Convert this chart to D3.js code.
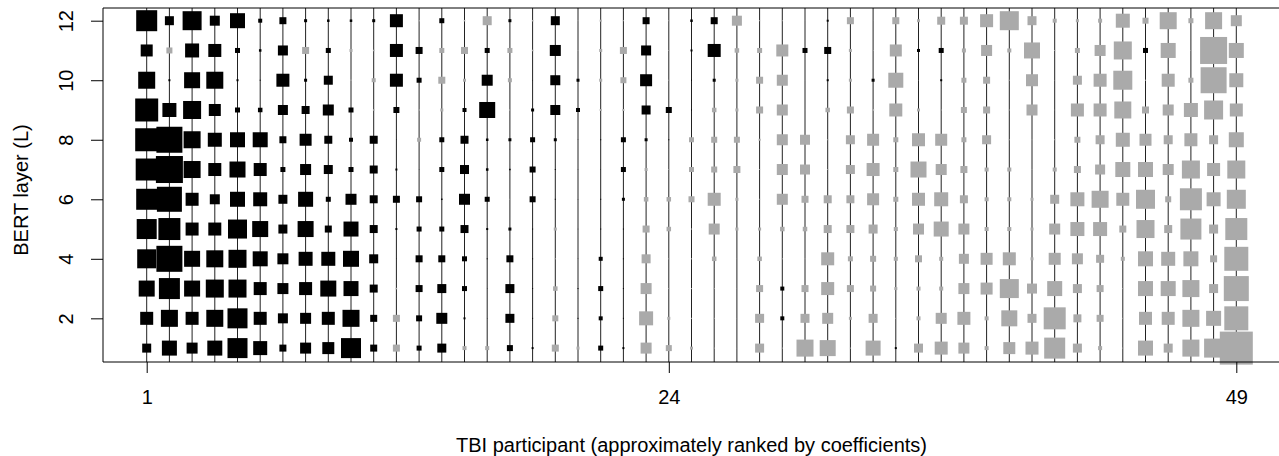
<!DOCTYPE html>
<html>
<head>
<meta charset="utf-8">
<script src="https://cdn.jsdelivr.net/npm/d3@7"></script>
<style>
  body { margin: 0; background: #fff; }
  svg { display: block; font-family: "Liberation Sans", Arial, Helvetica, sans-serif; }
</style>
</head>
<body>
<svg id="chart" width="1279" height="456"></svg>
<script>
// layers 1..12 (bottom to top), one row per participant, in rank order
const layers = [1, 2, 3, 4, 5, 6, 7, 8, 9, 10, 11, 12];
const xTicks = [1, 24, 49];
const yTicks = [2, 4, 6, 8, 10, 12];
const xTitle = 'TBI participant (approximately ranked by coefficients)';
const yTitle = 'BERT layer (L)';

// positive = black, negative = grey; square side ~ |coefficient|
const coef = [
  [0.9, 1.3, 1.6, 1.9, 2.0, 2.1, 2.2, 2.3, 2.3, 1.7, 1.2, 2.1],
  [1.5, 1.7, 2.1, 2.6, 2.2, 2.5, 2.7, 2.6, 1.4, 0.2, -0.6, 0.9],
  [1.1, 1.3, 1.6, 1.6, 1.3, 1.3, 1.7, 1.7, 1.8, 1.6, 1.4, 1.9],
  [1.5, 1.7, 1.8, 1.7, 1.3, 1.0, 1.3, 1.4, 1.2, 1.7, 1.3, 1.0],
  [2.0, 2.0, 1.8, 1.8, 1.9, 1.5, 1.6, 1.5, 0.5, 0.2, 0.5, 1.5],
  [1.4, 1.3, 1.3, 1.5, 1.6, 1.4, 1.3, 1.5, 0.45, 0.1, 0.25, 0.4],
  [0.7, 1.0, 1.1, 1.1, 0.9, 0.9, 0.5, 0.7, 1.0, 1.3, 1.0, 0.7],
  [1.1, 1.1, 1.3, 1.4, 1.6, 1.5, 1.1, 1.2, 0.8, 0.3, -0.7, 0.3],
  [1.2, 1.3, 1.6, 1.4, 0.7, 0.5, 0.9, 0.8, 1.1, 0.9, 0.5, 0.25],
  [2.0, 1.7, 1.5, 1.6, 1.5, 1.1, 0.5, 0.4, 0.5, -0.15, -0.3, 0.25],
  [0.7, 0.7, 0.8, 0.9, 0.8, 0.8, 0.8, 0.8, -0.15, -0.4, -0.15, 0.3],
  [-0.7, -0.7, -0.15, 0.05, 0.2, 0.7, 0.2, 0.05, 0.6, 1.3, 1.3, 1.3],
  [0.5, 0.6, 0.7, 0.7, 0.5, 0.6, 0.05, -0.4, -0.15, 0.5, 0.7, -0.15],
  [0.9, 1.1, 0.9, 0.7, 0.5, 0.15, 0.5, 0.5, -0.3, -0.7, -0.5, 0.5],
  [-0.4, 0.2, 0.5, 0.5, 0.8, 1.1, 0.9, 0.8, 0.4, -0.3, -0.7, -0.15],
  [-0.4, 0.05, 0.05, 0.1, 0.2, 0.5, 0.25, 0.25, 1.6, 1.1, 0.5, -0.9],
  [0.6, 0.9, 0.9, 0.7, 0.3, -0.1, 0.15, 0.3, -0.15, -0.4, -0.5, 0.3],
  [0.2, 0.1, 0.1, 0.1, 0.1, 0.6, 0.6, 0.5, 0.3, 0.05, -0.15, -0.15],
  [-0.7, -0.6, -0.45, -0.1, -0.3, 0.1, 0.1, 0.3, 1.0, 1.0, 1.1, 0.9],
  [-0.3, 0.1, 0.1, 0.05, 0.05, 0.05, 0.05, 0.05, 0.4, 0.3, -0.1, -0.1],
  [0.5, 0.4, 0.5, 0.4, 0.1, 0.1, 0.05, 0.1, -0.2, -0.3, -0.3, -0.2],
  [0.2, 0.1, 0.1, 0.1, 0.1, 0.3, 0.5, 0.5, -0.2, -0.6, -0.7, -0.1],
  [-1.1, -1.4, -1.1, -0.9, -0.7, -0.45, -0.3, 0.3, 0.9, 1.2, 1.0, 0.7],
  [-0.6, -0.3, -0.1, -0.1, -0.45, -0.45, -0.1, 0.1, 0.6, -0.1, -0.1, -0.1],
  [-0.3, -0.1, -0.1, -0.1, -0.1, -0.6, -0.5, -0.5, 0.1, 0.1, 0.2, 0.25],
  [-0.1, -0.1, -0.1, -0.45, -1.1, -1.3, -0.6, -0.6, -0.45, 0.3, 1.3, 0.7],
  [-0.05, -0.05, -0.05, -0.05, -0.3, -0.3, -0.7, -0.6, -0.3, -0.3, -0.45, -1.0],
  [-0.9, -0.9, -0.7, -0.45, -0.3, -0.1, -0.1, -0.2, -0.7, -0.7, -0.5, -0.1],
  [-0.1, 0.4, 0.4, -0.1, -0.45, -1.1, -1.1, -1.1, -1.1, -1.1, -1.2, -0.1],
  [-1.7, -0.9, -0.7, -0.1, -0.45, -0.7, -1.0, -1.0, -0.05, -0.05, 0.5, -0.05],
  [-1.6, -1.1, -1.3, -1.3, -0.8, -0.8, -0.1, -0.1, -0.45, 0.2, 0.7, 0.2],
  [-0.1, -0.3, -0.7, -0.5, -0.8, -0.8, -0.9, -0.9, -0.7, -0.3, -0.3, -0.7],
  [-1.5, -0.9, -0.6, -0.6, -0.9, -1.2, -1.3, -1.2, -0.2, 0.3, -0.1, -0.05],
  [0.2, -0.1, -0.3, -0.4, -0.4, -0.5, -0.5, -0.5, -1.3, -1.5, -1.2, -0.7],
  [-0.9, -0.4, -0.4, -0.7, -1.1, -1.3, -1.6, -1.3, -0.3, -0.05, 0.3, -0.3],
  [-1.3, -1.1, -0.4, -0.4, -1.5, -1.4, -1.1, -1.2, -0.1, 0.2, 0.5, -0.8],
  [-1.1, -1.3, -1.1, -1.0, -1.1, -0.8, -0.7, -0.5, -0.6, -0.5, -0.4, -0.8],
  [-0.4, -0.4, -1.2, -1.2, -0.4, -0.4, -0.4, -0.9, -0.7, -0.7, -1.1, -1.3],
  [-1.2, -1.6, -1.9, -1.3, -0.4, -0.4, -0.4, -0.1, -0.1, -0.1, -0.4, -1.9],
  [-1.3, -0.9, -1.0, -0.3, -0.3, -0.3, -0.1, -0.1, -1.1, -1.2, -1.6, -0.9],
  [-2.1, -2.2, -1.5, -1.2, -1.1, -0.9, -0.4, -0.1, -0.05, -0.05, -0.1, -0.4],
  [-0.9, -0.8, -0.9, -1.1, -1.4, -1.4, -0.7, -0.6, -1.3, -0.9, -0.5, -0.3],
  [-0.4, -0.7, -0.7, -0.8, -1.4, -1.7, -1.0, -0.9, -1.3, -1.3, -1.1, -0.4],
  [-0.1, -0.1, -0.1, -0.4, -0.7, -1.3, -1.5, -1.4, -1.7, -1.9, -1.8, -1.4],
  [-1.5, -1.3, -1.5, -1.5, -1.8, -1.9, -1.5, -1.2, -0.7, -0.1, 0.5, -0.6],
  [-0.9, -1.3, -1.5, -1.4, -0.8, -0.6, -1.1, -0.9, -1.1, -1.3, -1.5, -1.7],
  [-1.7, -1.7, -1.7, -1.5, -2.1, -2.2, -1.8, -1.3, -1.4, -0.5, -0.1, -0.5],
  [-1.9, -1.5, -0.9, -0.7, -0.9, -1.4, -1.3, -0.9, -1.9, -2.6, -2.7, -1.7],
  [-3.3, -2.4, -2.5, -2.4, -2.2, -1.9, -1.8, -1.5, -1.3, -1.4, -1.5, -1.1]
];

const box = {left: 103, top: 8, bottom: 362, right: 1292};
const fontSize = 20;

const svg = d3.select('#chart');

const x = d3.scaleLinear().domain([1, coef.length]).range([146.7, 1236.3]);
const y = d3.scaleLinear().domain([1, 12]).range([348.1, 20.7]);
const side = d3.scaleLinear()
  .domain([0, d3.max(coef, row => d3.max(row, v => Math.abs(v)))])
  .range([0, 33]);

const cells = [];
coef.forEach((row, i) => {
  row.forEach((v, j) => cells.push({p: i + 1, layer: layers[j], v}));
});

// one vertical guide per participant
svg.append('g')
  .selectAll('line')
  .data(coef.map((_, i) => i + 1))
  .join('line')
  .attr('x1', d => x(d)).attr('x2', d => x(d))
  .attr('y1', box.top).attr('y2', box.bottom)
  .attr('stroke', '#222')
  .attr('stroke-width', 1);

svg.append('g')
  .selectAll('rect')
  .data(cells)
  .join('rect')
  .attr('x', d => x(d.p) - side(Math.abs(d.v)) / 2)
  .attr('y', d => y(d.layer) - side(Math.abs(d.v)) / 2)
  .attr('width', d => side(Math.abs(d.v)))
  .attr('height', d => side(Math.abs(d.v)))
  .attr('fill', d => d.v >= 0 ? '#000' : '#aaaaaa');

// box (right side runs past the page edge)
svg.append('path')
  .attr('d', `M${box.right},${box.top}H${box.left}V${box.bottom}H${box.right}`)
  .attr('fill', 'none')
  .attr('stroke', '#000')
  .attr('stroke-width', 1);

const yAxis = svg.append('g')
  .attr('transform', `translate(${box.left},0)`)
  .call(d3.axisLeft(y).tickValues(yTicks).tickSize(12).tickSizeOuter(0));
yAxis.select('.domain').remove();
yAxis.selectAll('text')
  .attr('transform', 'rotate(-90)')
  .attr('x', 0).attr('y', -30).attr('dy', 0)
  .attr('text-anchor', 'middle')
  .attr('fill', '#000')
  .style('font-size', fontSize + 'px');

const xAxis = svg.append('g')
  .attr('transform', `translate(0,${box.bottom})`)
  .call(d3.axisBottom(x).tickValues(xTicks).tickSize(11).tickSizeOuter(0));
xAxis.select('.domain').remove();
xAxis.selectAll('text')
  .attr('y', 42).attr('dy', 0)
  .attr('fill', '#000')
  .style('font-size', fontSize + 'px');

svg.selectAll('.tick line').attr('stroke', '#000');
svg.selectAll('g').attr('font-family', null);

svg.append('text')
  .attr('x', 691.5).attr('y', 452)
  .attr('text-anchor', 'middle')
  .style('font-size', fontSize + 'px')
  .text(xTitle);

svg.append('text')
  .attr('transform', 'translate(28,190) rotate(-90)')
  .attr('text-anchor', 'middle')
  .style('font-size', fontSize + 'px')
  .text(yTitle);
</script>
</body>
</html>
